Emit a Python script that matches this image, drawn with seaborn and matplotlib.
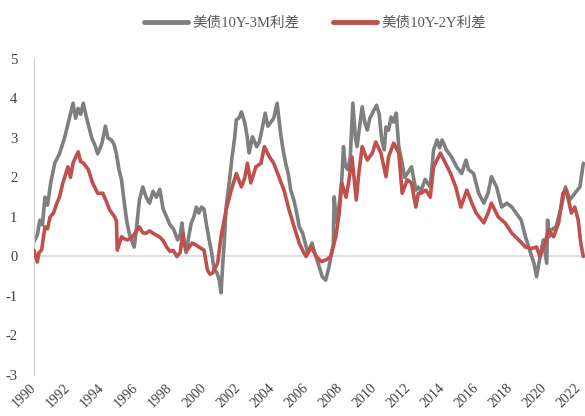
import pandas as pd
import numpy as np
import matplotlib
matplotlib.use("Agg")
import matplotlib.pyplot as plt
import seaborn as sns

# -------------------
# Data (year as decimal, spread in %)
years_3m = [1990.0, 1990.2, 1990.35, 1990.5, 1990.65, 1990.8, 1991.0, 1991.23, 1991.5, 1991.8,
            1992.1, 1992.3, 1992.45, 1992.6, 1992.75, 1992.9, 1993.1, 1993.4, 1993.6, 1993.75,
            1994.0, 1994.2, 1994.35, 1994.55, 1994.7, 1994.85, 1995.0, 1995.15, 1995.3, 1995.45,
            1995.6, 1995.75, 1995.9, 1996.05, 1996.2, 1996.4, 1996.6, 1996.8, 1997.0, 1997.2,
            1997.4, 1997.6, 1997.8, 1998.0, 1998.2, 1998.45, 1998.6, 1998.7, 1998.85, 1998.95,
            1999.1, 1999.25, 1999.4, 1999.55, 1999.7, 1999.85, 2000.0, 2000.1, 2000.3, 2000.45,
            2000.6, 2000.75, 2000.9, 2001.0, 2001.1, 2001.2, 2001.3, 2001.5, 2001.65, 2001.8,
            2001.9, 2002.05, 2002.2, 2002.4, 2002.55, 2002.65, 2002.85, 2003.1, 2003.25, 2003.4,
            2003.6, 2003.75, 2003.9, 2004.1, 2004.3, 2004.5, 2004.65, 2004.8, 2004.95, 2005.1,
            2005.3, 2005.45, 2005.6, 2005.8, 2006.0, 2006.1, 2006.35, 2006.5, 2006.65, 2006.8,
            2006.95, 2007.15, 2007.35, 2007.5, 2007.6, 2007.65, 2007.8, 2007.95, 2008.1, 2008.2,
            2008.3, 2008.45, 2008.6, 2008.75, 2008.9, 2009.0, 2009.15, 2009.3, 2009.45, 2009.6,
            2009.75, 2009.9, 2010.15, 2010.3, 2010.45, 2010.6, 2010.7, 2010.85, 2011.0, 2011.15,
            2011.3, 2011.45, 2011.65, 2011.8, 2011.95, 2012.2, 2012.45, 2012.6, 2012.75, 2013.0,
            2013.3, 2013.5, 2013.7, 2013.85, 2014.0, 2014.25, 2014.55, 2014.85, 2015.15, 2015.4,
            2015.55, 2015.85, 2016.15, 2016.45, 2016.7, 2016.9, 2017.2, 2017.5, 2017.8, 2018.1,
            2018.35, 2018.65, 2018.9, 2019.2, 2019.4, 2019.55, 2019.8, 2019.95, 2020.15, 2020.2,
            2020.3, 2020.4, 2020.7, 2021.0, 2021.25, 2021.5, 2021.8, 2022.1, 2022.3]
spread_3m = [0.37, 0.55, 0.92, 0.8, 1.5, 1.3, 1.9, 2.37, 2.6, 3.0,
             3.53, 3.88, 3.5, 3.75, 3.6, 3.88, 3.5, 3.0, 2.8, 2.6,
             2.87, 3.3, 3.0, 2.95, 2.85, 2.6, 2.2, 1.94, 1.4, 0.92,
             0.59, 0.4, 0.24, 0.8, 1.43, 1.76, 1.5, 1.35, 1.65, 1.5,
             1.7, 1.2, 1.0, 0.8, 0.7, 0.42, 0.55, 0.85, 0.3, 0.1,
             0.5, 0.85, 1.0, 1.25, 1.1, 1.25, 1.2, 0.92, 0.42, 0.1,
             -0.34, -0.4, -0.6, -0.92, -0.2, 0.42, 1.25, 1.94, 2.52, 3.0,
             3.46, 3.5, 3.66, 3.38, 3.0, 2.62, 3.03, 2.78, 2.9, 3.2,
             3.63, 3.3, 3.38, 3.5, 3.88, 3.12, 2.7, 2.36, 2.1, 1.68,
             1.4, 1.1, 0.75, 0.59, 0.25, 0.09, 0.34, 0.1, -0.09, -0.3,
             -0.51, -0.6, -0.26, 0.09, 0.3, 1.51, 0.85, 1.3, 1.94, 2.78,
             2.3, 2.2, 2.52, 3.88, 3.0, 2.78, 3.3, 3.79, 3.4, 3.2,
             3.5, 3.63, 3.83, 3.6, 2.95, 2.7, 3.28, 3.2, 3.53, 3.4,
             3.63, 2.78, 2.36, 2.0, 2.1, 2.27, 1.68, 1.76, 1.65, 1.95,
             1.76, 2.7, 2.95, 2.75, 2.95, 2.7, 2.52, 2.27, 2.1, 2.44,
             2.2, 2.1, 1.6, 1.35, 1.6, 2.02, 1.76, 1.25, 1.35, 1.25,
             1.1, 0.92, 0.5, 0.09, -0.17, -0.51, 0.09, 0.42, -0.17, 0.92,
             0.5, 0.67, 0.75, 1.25, 1.76, 1.43, 1.6, 1.76, 2.36]

years_2y = [1990.0, 1990.2, 1990.3, 1990.45, 1990.65, 1990.8, 1990.95, 1991.15, 1991.35, 1991.5,
            1991.7, 1992.0, 1992.15, 1992.3, 1992.6, 1992.75, 1992.9, 1993.2, 1993.45, 1993.75,
            1994.05, 1994.25, 1994.45, 1994.75, 1994.85, 1994.9, 1995.15, 1995.3, 1995.5, 1995.8,
            1996.2, 1996.4, 1996.6, 1996.8, 1997.0, 1997.4, 1997.6, 1997.8, 1998.0, 1998.2,
            1998.4, 1998.6, 1998.75, 1998.85, 1999.0, 1999.3, 1999.5, 1999.7, 2000.0, 2000.2,
            2000.35, 2000.5, 2000.8, 2001.0, 2001.3, 2001.6, 2001.9, 2002.2, 2002.4, 2002.55,
            2002.75, 2003.05, 2003.35, 2003.55, 2003.85, 2004.1, 2004.4, 2004.7, 2005.0, 2005.3,
            2005.6, 2005.8, 2006.0, 2006.3, 2006.6, 2006.9, 2007.2, 2007.45, 2007.75, 2007.95,
            2008.1, 2008.35, 2008.5, 2008.7, 2008.95, 2009.1, 2009.3, 2009.6, 2009.9, 2010.1,
            2010.4, 2010.7, 2010.85, 2011.15, 2011.45, 2011.65, 2011.95, 2012.2, 2012.45, 2012.6,
            2012.75, 2013.05, 2013.3, 2013.5, 2013.9, 2014.2, 2014.5, 2014.8, 2015.1, 2015.45,
            2015.75, 2016.0, 2016.45, 2016.7, 2016.9, 2017.3, 2017.7, 2018.1, 2018.5, 2018.9,
            2019.25, 2019.55, 2019.75, 2020.05, 2020.25, 2020.55, 2020.85, 2021.1, 2021.3, 2021.6,
            2021.8, 2022.0, 2022.15, 2022.3]
spread_2y = [0.16, -0.14, 0.1, 0.16, 0.75, 0.7, 1.0, 1.1, 1.35, 1.5,
             1.86, 2.27, 2.0, 2.37, 2.65, 2.4, 2.37, 2.2, 1.86, 1.6,
             1.6, 1.4, 1.18, 1.0, 0.9, 0.16, 0.5, 0.45, 0.42, 0.5,
             0.75, 0.6, 0.59, 0.65, 0.59, 0.49, 0.4, 0.24, 0.13, 0.15,
             0.0, 0.1, 0.59, 0.3, 0.16, 0.34, 0.3, 0.24, 0.16, -0.34,
             -0.45, -0.42, -0.17, 0.5, 1.18, 1.68, 2.1, 1.76, 2.0, 2.36,
             1.86, 2.27, 2.36, 2.78, 2.52, 2.36, 2.02, 1.68, 1.18, 0.75,
             0.34, 0.15, 0.0, 0.24, 0.0, -0.13, -0.08, 0.0, 0.5, 1.1,
             1.86, 1.5, 1.86, 2.52, 1.43, 2.1, 2.78, 2.44, 2.62, 2.9,
             2.62, 2.02, 2.52, 2.87, 2.62, 1.6, 1.94, 1.86, 1.25, 1.6,
             1.6, 1.68, 1.5, 2.27, 2.62, 2.36, 2.1, 1.76, 1.25, 1.68,
             1.35, 1.1, 0.85, 1.1, 1.35, 1.0, 0.85, 0.59, 0.42, 0.24,
             0.2, 0.24, 0.0, 0.34, 0.67, 0.5, 0.85, 1.6, 1.68, 1.1,
             1.25, 0.92, 0.34, 0.0]

label_3m = "美债10Y-3M利差"
label_2y = "美债10Y-2Y利差"
tick_years = list(range(1990, 2023, 2))
y_ticks = [-3, -2, -1, 0, 1, 2, 3, 4, 5]

df_3m = pd.DataFrame({"year": years_3m, "spread": spread_3m})
df_2y = pd.DataFrame({"year": years_2y, "spread": spread_2y})

# -------------------
# Plot
sns.set_style("white")
plt.rcParams['font.family'] = ['Liberation Serif', 'Noto Sans CJK SC', 'DejaVu Sans']

fig = plt.figure(figsize=(5.85, 4.16), dpi=100)
ax = fig.add_axes([0.058, 0.0986, 0.942, 0.7596])

ax.axhline(0, color="#d9d9d9", lw=1.2, zorder=1)
sns.lineplot(data=df_3m, x="year", y="spread", ax=ax, color="#7f7f7f", lw=2.6,
             label=label_3m, sort=False, zorder=2)
sns.lineplot(data=df_2y, x="year", y="spread", ax=ax, color="#c0504d", lw=2.6,
             label=label_2y, sort=False, zorder=3)

ax.set_xlim(1990, 2022.4)
ax.set_ylim(-3, 5)
ax.set_xticks(tick_years)
ax.set_xticklabels([str(y) for y in tick_years], rotation=45, ha="right", va="center",
                   rotation_mode="anchor", fontsize=10, color="#404040")
ax.set_yticks(y_ticks)
ax.set_yticklabels([str(v) for v in y_ticks], fontsize=10.5, color="#404040")
ax.tick_params(axis="x", length=0, pad=8)
ax.tick_params(axis="y", length=3, width=0.8, color="#bfbfbf", pad=9)
ax.set_xlabel("")
ax.set_ylabel("")

for s in ["top", "right", "bottom"]:
    ax.spines[s].set_visible(False)
ax.spines["left"].set_color("#d0d0d0")
ax.spines["left"].set_linewidth(0.9)

leg = ax.legend(loc="upper center", bbox_to_anchor=(0.51, 1.175), ncol=2, frameon=False,
                fontsize=10.5, handlelength=3.0, handletextpad=0.3, columnspacing=2.3)
for t in leg.get_texts():
    t.set_color("#595959")
for h in leg.get_lines():
    h.set_linewidth(3.5)

fig.savefig("out.png", dpi=100)
